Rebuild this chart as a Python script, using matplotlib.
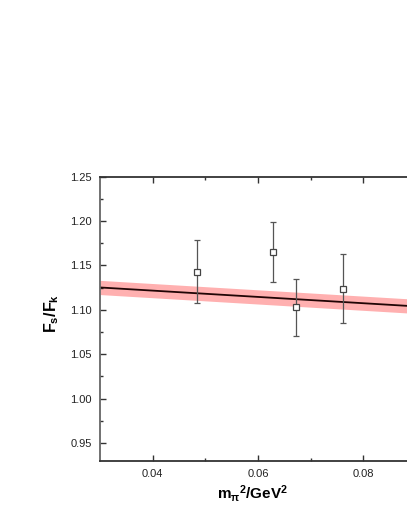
import numpy as np
import matplotlib
matplotlib.use("Agg")
import matplotlib.pyplot as plt

# lattice points (m_pi^2 in GeV^2, F_s/F_K)
m_pi2 = [0.0485, 0.0629, 0.0672, 0.0762]
ratio = [1.143, 1.165, 1.103, 1.124]
ratio_err = [0.0355, 0.034, 0.032, 0.039]

# linear fit with error band
fit_x = [0.03, 0.09]
fit_y = [1.1252, 1.1039]
fit_band = [0.008, 0.008]


def main():
    plt.rcParams["font.family"] = ["Liberation Sans", "DejaVu Sans"]
    plt.rcParams["mathtext.fontset"] = "custom"
    plt.rcParams["mathtext.rm"] = "Liberation Sans"
    plt.rcParams["mathtext.it"] = "Liberation Sans:italic"
    plt.rcParams["mathtext.bf"] = "Liberation Sans:bold"

    fig = plt.figure(figsize=(4.07, 5.27), dpi=100)
    ax = fig.add_axes([0.2457, 0.1258, 0.776, 0.5389])

    fx = np.array(fit_x)
    fy = np.array(fit_y)
    fb = np.array(fit_band)
    ax.fill_between(fx, fy - fb, fy + fb, color="#ffb0b0", linewidth=0, zorder=1)
    ax.plot(fx, fy, color="#200404", linewidth=1.3, zorder=2)

    ax.errorbar(
        m_pi2,
        ratio,
        yerr=ratio_err,
        fmt="s",
        markersize=5,
        markerfacecolor="white",
        markeredgecolor="#444444",
        markeredgewidth=0.9,
        ecolor="#555555",
        elinewidth=0.9,
        capsize=2.5,
        capthick=0.9,
        zorder=3,
    )

    ax.set_xlim(0.03, 0.09)
    ax.set_ylim(0.93, 1.25)
    ax.set_xticks([0.04, 0.06, 0.08])
    ax.set_xticks([0.05, 0.07], minor=True)
    ax.set_yticks([0.95, 1.00, 1.05, 1.10, 1.15, 1.20, 1.25])
    ax.set_yticks([0.975, 1.025, 1.075, 1.125, 1.175, 1.225], minor=True)
    ax.xaxis.set_major_formatter(plt.FormatStrFormatter("%.2f"))
    ax.yaxis.set_major_formatter(plt.FormatStrFormatter("%.2f"))

    ax.tick_params(which="both", direction="in", top=True, right=False,
                   labelsize=8, colors="#333333", width=1.0)
    ax.tick_params(which="major", length=4, pad=6)
    ax.tick_params(which="minor", length=2.5)
    ax.tick_params(axis="x", labelcolor="#222222")
    ax.tick_params(axis="y", labelcolor="#222222")
    for side in ["left", "bottom", "top"]:
        ax.spines[side].set_linewidth(1.3)
        ax.spines[side].set_color("#333333")
    ax.spines["left"].set_color("#666666")
    ax.spines["right"].set_visible(False)

    ax.set_ylabel(r"$\mathbf{F_s/F_k}$", fontsize=11.5)
    ax.set_xlabel(r"$\mathbf{m_{\pi}{}^2/GeV^2}$", fontsize=11)
    ax.yaxis.set_label_coords(-0.123, 0.52)
    ax.xaxis.set_label_coords(0.484, -0.078)

    fig.savefig("out.png", dpi=100)


if __name__ == "__main__":
    main()
